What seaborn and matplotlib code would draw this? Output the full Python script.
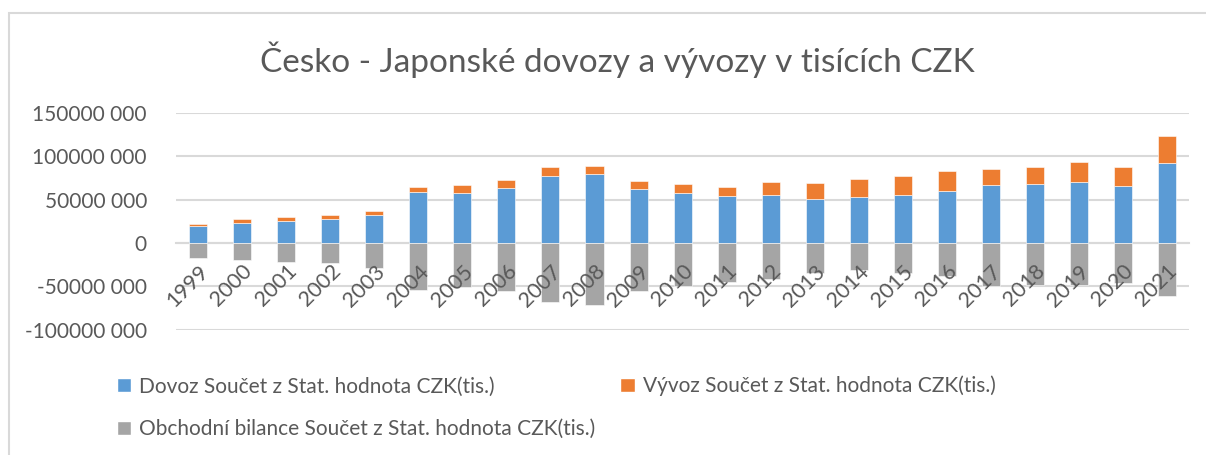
import numpy as np
import pandas as pd
import matplotlib
import matplotlib.pyplot as plt
import seaborn as sns
from matplotlib.patches import Patch, Rectangle
from matplotlib.ticker import FuncFormatter

## data (tis. CZK)
roky = [str(r) for r in range(1999, 2022)]
dovoz = [19.1, 23.3, 24.9, 27.2, 32.1, 58.6, 57.8, 63.1, 77.3, 79.2, 62.4, 57.8,
         54.3, 55.9, 51.3, 52.8, 55.5, 60.1, 66.6, 68.5, 70.8, 66.2, 91.8]
vyvoz = [3.1, 4.6, 5.3, 4.6, 4.6, 6.1, 8.8, 10.0, 10.3, 10.0, 8.8, 10.7,
         10.4, 14.1, 17.6, 21.4, 21.8, 23.3, 18.7, 19.1, 22.2, 21.4, 31.0]
bilance = [-17.2, -19.5, -21.4, -23.3, -28.7, -53.6, -50.5, -54.7, -67.4, -70.8, -54.7, -49.4,
           -44.4, -41.7, -34.4, -31.0, -34.4, -37.5, -49.0, -47.8, -47.8, -45.9, -61.2]

df = pd.DataFrame({'rok': roky,
                   'dovoz': np.array(dovoz) * 1e6,
                   'vyvoz': np.array(vyvoz) * 1e6,
                   'bilance': np.array(bilance) * 1e6})

labels = ['Dovoz Součet z Stat. hodnota CZK(tis.)',
          'Vývoz Součet z Stat. hodnota CZK(tis.)',
          'Obchodní bilance Součet z Stat. hodnota CZK(tis.)']
barvy = ['#5B9BD5', '#ED7D31', '#A5A5A5']
seda = '#595959'

sns.set_style('white')
plt.rcParams['font.family'] = ['Lato', 'DejaVu Sans']

fig = plt.figure(figsize=(12.06, 4.55), dpi=100)
ax = fig.add_axes([0.146, 0.275, 0.840, 0.477])

sns.barplot(x='rok', y='dovoz', data=df, color=barvy[0], width=0.41, ax=ax, saturation=1,
            edgecolor='white', linewidth=0.4, zorder=3)
sns.barplot(x='rok', y='vyvoz', data=df, color=barvy[1], width=0.41, ax=ax, saturation=1,
            bottom=df['dovoz'], edgecolor='white', linewidth=0.4, zorder=3)
sns.barplot(x='rok', y='bilance', data=df, color=barvy[2], width=0.41, ax=ax, saturation=1,
            edgecolor='white', linewidth=0.4, zorder=3)

ax.set_xlim(-0.5, len(roky) - 0.5)
ax.set_ylim(-100e6, 150e6)
ax.set_yticks(np.arange(-100e6, 150e6 + 1, 50e6))
ax.yaxis.grid(True, color='#D9D9D9', linewidth=1.5)
ax.set_axisbelow(True)
ax.xaxis.set_zorder(5)  # year labels sit on top of the grey bars


def fmt(v, pos):
    v = int(round(v))
    if v == 0:
        return '0'
    s = str(abs(v) // 1000)
    return ('-' if v < 0 else '') + s + ' 000'


ax.yaxis.set_major_formatter(FuncFormatter(fmt))
for s in ['top', 'right', 'left']:
    ax.spines[s].set_visible(False)
ax.spines['bottom'].set_position(('data', 0))
ax.spines['bottom'].set_color('#D9D9D9')
ax.spines['bottom'].set_linewidth(1.5)
ax.spines['bottom'].set_zorder(1)
ax.tick_params(axis='y', labelsize=15, labelcolor=seda, length=0, pad=21)
ax.tick_params(axis='x', labelsize=15.5, labelcolor=seda, length=0, pad=13)
plt.setp(ax.get_xticklabels(), rotation=45, ha='right', rotation_mode='anchor')
ax.set_xlabel('')
ax.set_ylabel('')

fig.text(0.512, 0.868, 'Česko - Japonské dovozy a vývozy v tisících CZK',
         ha='center', va='center', fontsize=24, color=seda)

handles = [Patch(facecolor=barvy[0], label=labels[0]),
           Patch(facecolor=barvy[2], label=labels[2]),
           Patch(facecolor=barvy[1], label=labels[1])]
fig.legend(handles=handles, ncol=2, loc='upper left', bbox_to_anchor=(0.088, 0.197),
           frameon=False, fontsize=15, labelcolor=seda, handlelength=0.7,
           handleheight=0.7, handletextpad=0.4, columnspacing=1.18, labelspacing=1.1,
           borderpad=0)

fig.add_artist(Rectangle((0.0075, -0.2), 1.2, 0.971 + 0.2, transform=fig.transFigure,
                         fill=False, edgecolor='#D9D9D9', linewidth=1.5))

plt.savefig('out.png', dpi=100)
